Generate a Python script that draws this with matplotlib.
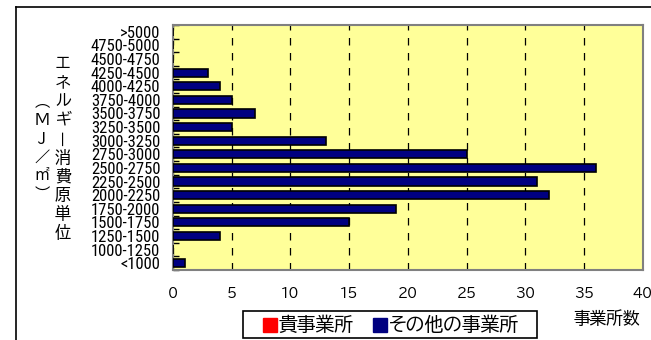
import numpy as np
import matplotlib
matplotlib.use("Agg")
import matplotlib.pyplot as plt
from matplotlib.lines import Line2D
from matplotlib.patches import Rectangle
from matplotlib import font_manager

# energy intensity classes (MJ/m2), bottom to top
classes = ['<1000', '1000-1250', '1250-1500', '1500-1750', '1750-2000',
           '2000-2250', '2250-2500', '2500-2750', '2750-3000', '3000-3250',
           '3250-3500', '3500-3750', '3750-4000', '4000-4250', '4250-4500',
           '4500-4750', '4750-5000', '>5000']
# number of sites in each class
others = [1, 0, 4, 15, 19, 32, 31, 36, 25, 13, 5, 7, 5, 4, 3, 0, 0, 0]
xticks = [0, 5, 10, 15, 20, 25, 30, 35, 40]
legend_labels = ['貴事業所', 'その他の事業所']

names = {f.name for f in font_manager.fontManager.ttflist}

def pick(prefs):
    for p in prefs:
        if p in names:
            return p
    return None

jp = pick(['BIZ UDPGothic', 'BIZ UDGothic', 'Noto Sans CJK JP'])
narrow = pick(['Roboto Condensed', 'Archivo Narrow', 'PT Sans Narrow',
               'Arial Narrow', 'Liberation Sans Narrow', 'Open Sans Condensed'])
plt.rcParams['font.family'] = [jp, 'Noto Sans CJK JP', 'DejaVu Sans']

fig = plt.figure(figsize=(6.51, 3.40), dpi=100)
ax = fig.add_axes([0.2657, 0.2059, 0.722, 0.7206])
ax.set_facecolor('#ffff99')

y = np.arange(len(classes))
ax.barh(y, others, height=0.6, color='#000080', edgecolor='black', linewidth=1.2, zorder=3)

ax.set_xlim(0, 40)
ax.set_ylim(-0.5, len(classes) - 0.5)
ax.set_xticks(xticks)
ax.set_xticklabels([str(v) for v in xticks], fontsize=9.5)
ax.tick_params(axis='x', length=0, pad=12)
ax.set_yticks(y)
if narrow:
    ax.set_yticklabels(classes, fontsize=12, family=[narrow, 'DejaVu Sans'])
else:
    ax.set_yticklabels(classes, fontsize=8.5, family=['DejaVu Sans'])
ax.tick_params(axis='y', length=0, pad=9)
# small ticks on the class boundaries
ax.set_yticks(np.arange(len(classes) + 1) - 0.5, minor=True)
ax.tick_params(axis='y', which='minor', direction='in', length=4, width=1)

ax.grid(axis='x', color='black', linestyle=(0, (6, 6)), linewidth=0.9, zorder=1)
for side in ['top', 'right', 'left', 'bottom']:
    ax.spines[side].set_color('#808080')
    ax.spines[side].set_linewidth(1.5)

# vertical axis title in two columns
col_right = ['エ', 'ネ', 'ル', 'ギ', 'ー', '消', '費', '原', '単', '位']
col_left = ['︵', 'M', 'J', '／', '㎡', '︶']
for i, ch in enumerate(col_right):
    fig.text(63 / 651, 1 - (63 + i * 18.8) / 340, ch, fontsize=11.5,
             ha='center', va='center', rotation=90 if ch == 'ー' else 0)
for i, ch in enumerate(col_left):
    fig.text(42 / 651, 1 - (101 + i * 18.5) / 340, ch, fontsize=11,
             ha='center', va='center')

fig.text(607 / 651, 1 - 318 / 340, '事業所数', fontsize=12, ha='center', va='center')

# legend with its own box
handles = [Line2D([], [], marker='s', linestyle='none', color='#ff0000', markersize=10),
           Line2D([], [], marker='s', linestyle='none', color='#000080', markersize=10)]
leg = fig.legend(handles, legend_labels, loc='center',
                 bbox_to_anchor=(390 / 651, 1 - 324 / 340), ncol=2, fontsize=13.5,
                 frameon=False, handletextpad=0.0, columnspacing=1.0,
                 borderpad=0.1, handlelength=0.9, borderaxespad=0)
fig.add_artist(Rectangle((243 / 651, 1 - 338 / 340), 294 / 651, 27 / 340,
                         transform=fig.transFigure, facecolor='none',
                         edgecolor='black', linewidth=1.2))

# outer frame lines
fig.add_artist(Line2D([16 / 651, 1], [1 - 7 / 340, 1 - 7 / 340], color='black', linewidth=1.2))
fig.add_artist(Line2D([16 / 651, 16 / 651], [0, 1 - 7 / 340], color='black', linewidth=1.2))

fig.savefig('out.png', dpi=100)
